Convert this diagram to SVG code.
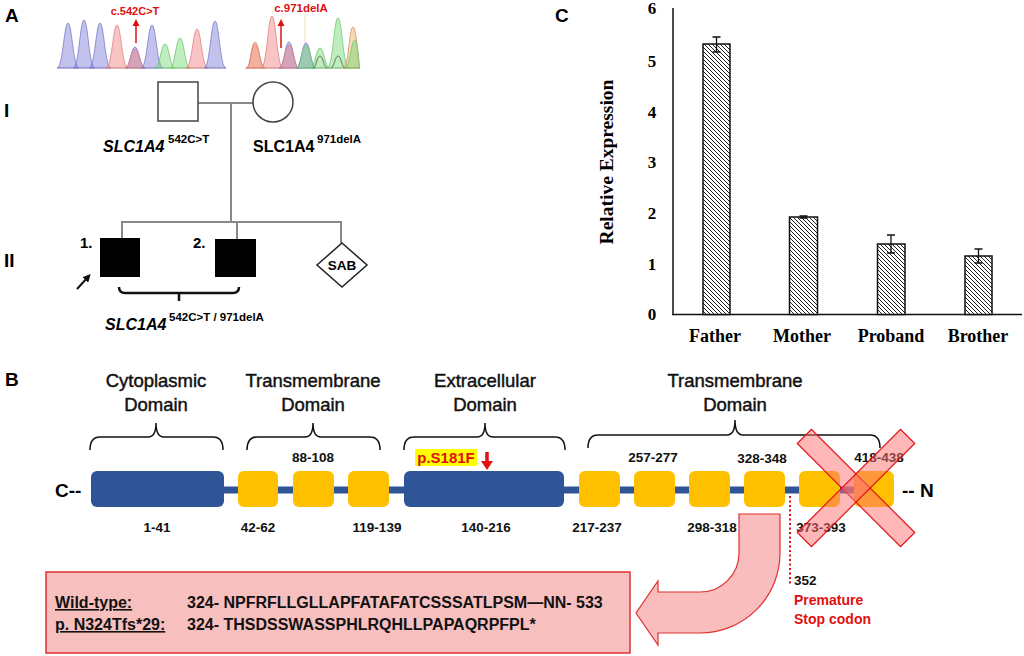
<svg xmlns="http://www.w3.org/2000/svg" width="1024" height="656" viewBox="0 0 1024 656">
<defs>
<style>
.sans{font-family:"Liberation Sans",Arial,sans-serif}
.serif{font-family:"Liberation Serif","Times New Roman",serif;font-weight:bold}
.panel{font-family:"Liberation Sans",Arial,sans-serif;font-weight:bold;font-size:19px}
.head{font-family:"Liberation Sans",Arial,sans-serif;font-size:18.5px;fill:#111;stroke:#111;stroke-width:0.45}
.num{font-family:"Liberation Sans",Arial,sans-serif;font-weight:bold;font-size:13.5px;fill:#111}
.seq{font-family:"Liberation Sans",Arial,sans-serif;font-weight:bold;font-size:16px;fill:#111}
.ped{stroke:#888;stroke-width:2;fill:none}
.brace{stroke:#111;stroke-width:1.5;fill:none}
.blue{fill:#2F5597}
.yel{fill:#FFC000}
.pb{fill:rgba(120,120,215,0.45);stroke:#7a7ad0;stroke-width:0.8}
.pr{fill:rgba(240,125,125,0.45);stroke:#e08080;stroke-width:0.8}
.pg{fill:rgba(110,215,110,0.45);stroke:#70c870;stroke-width:0.8}
.po{fill:rgba(235,175,95,0.45);stroke:#d99060;stroke-width:0.8}
.bar{fill:url(#hatch);stroke:#111;stroke-width:1.5}
.err{stroke:#111;stroke-width:1.3;fill:none}
.redt{fill:#E01010;font-family:"Liberation Sans",Arial,sans-serif;font-weight:bold}
</style>
<pattern id="hatch" width="4" height="4" patternUnits="userSpaceOnUse">
<rect width="4" height="4" fill="#fff"/>
<path d="M-1,-1 L5,5 M-1,3 L1,5 M3,-1 L5,1" stroke="#222" stroke-width="1"/>
</pattern>
<marker id="ah" viewBox="0 0 10 10" refX="5" refY="5" markerWidth="4" markerHeight="4" orient="auto">
<path d="M0,0 L10,5 L0,10 Z" fill="#111"/>
</marker>
</defs>
<rect width="1024" height="656" fill="#fff"/>

<!-- Panel A -->
<text class="panel" x="5" y="22">A</text>
<g id="chromatogram-left">
<line x1="58" y1="68" x2="226" y2="68" stroke="#bbb" stroke-width="1"/>
<path class="pb" d="M57,68 C63,68 64,23 68,23 C72,23 73,68 79,68 Z"/>
<path class="pb" d="M73,68 C79,68 80,20 84,20 C88,20 89,68 95,68 Z"/>
<path class="pb" d="M89,68 C95,68 96,23 100,23 C104,23 105,68 111,68 Z"/>
<path class="pr" d="M106,68 C112,68 113,25 117,25 C121,25 122,68 128,68 Z"/>
<path class="pb" d="M125,68 C130,68 131,47 135,47 C139,47 140,68 145,68 Z"/>
<path class="pr" d="M125,68 C130,68 131,49 135,49 C139,49 140,68 145,68 Z"/>
<path class="pb" d="M141,68 C147,68 148,25 152,25 C156,25 157,68 163,68 Z"/>
<path class="pg" d="M155,68 C160,68 161,44 165,44 C169,44 170,68 175,68 Z"/>
<path class="pg" d="M170,68 C175,68 176,38 180,38 C184,38 185,68 190,68 Z"/>
<path class="pr" d="M186,68 C192,68 193,29 197,29 C201,29 202,68 208,68 Z"/>
<path class="pb" d="M204,68 C210,68 211,21 215,21 C219,21 220,68 226,68 Z"/>
<text class="redt" x="135" y="15" font-size="11" text-anchor="middle">c.542C&gt;T</text>
<line x1="136" y1="43" x2="136" y2="25" stroke="#E01010" stroke-width="1.5"/>
<path d="M132.5,26 L136,19 L139.5,26 Z" fill="#E01010"/>
</g>
<g id="chromatogram-right">
<line x1="245" y1="68" x2="360" y2="68" stroke="#bbb" stroke-width="1"/>
<line x1="305" y1="14" x2="305" y2="44" stroke="#f3dcc0" stroke-width="1"/>
<path class="po" d="M246,68 C251,68 251,42 255,42 C259,42 260,68 265,68 Z"/>
<path class="pr" d="M246,68 C251,68 251,44 255,44 C259,44 260,68 265,68 Z"/>
<path class="pr" d="M261,68 C267,68 268,16 272,16 C276,16 277,68 283,68 Z"/>
<path class="pb" d="M279,68 C284,68 285,42 289,42 C293,42 294,68 299,68 Z"/>
<path class="pr" d="M279,68 C284,68 285,45 289,45 C293,45 294,68 299,68 Z"/>
<path class="pb" d="M296,68 C301,68 302,43 306,43 C310,43 311,68 316,68 Z"/>
<path class="pg" d="M296,68 C301,68 302,45 306,45 C310,45 311,68 316,68 Z"/>
<path class="pg" d="M310,68 C315,68 316,48 320,48 C324,48 325,68 330,68 Z"/>
<path d="M313,68 C316,68 317,56 320,56 C323,56 324,68 327,68" fill="none" stroke="#555" stroke-width="0.8"/>
<path class="pg" d="M327,68 C333,68 334,18 338,18 C342,18 343,68 349,68 Z"/>
<path d="M331,68 C334,68 335,56 338,56 C341,56 342,68 345,68" fill="none" stroke="#555" stroke-width="0.8"/>
<path class="po" d="M343,68 C349,68 349,27 353,27 C357,27 358,68 360,68 Z"/>
<path class="pg" d="M345,68 C350,68 351,40 355,40 C358,40 359,68 360,68 Z"/>
<text class="redt" x="301" y="12" font-size="11.5" text-anchor="middle">c.971delA</text>
<line x1="281" y1="48" x2="281" y2="25" stroke="#E01010" stroke-width="1.5"/>
<path d="M277.5,26 L281,19 L284.5,26 Z" fill="#E01010"/>
</g>

<text class="panel" x="4" y="117" font-size="20">I</text>
<text class="panel" x="4" y="267" font-size="20">II</text>

<g id="pedigree-lines">
<line class="ped" x1="198" y1="103" x2="253" y2="103"/>
<line class="ped" x1="231" y1="103" x2="231" y2="222"/>
<line class="ped" x1="121" y1="222" x2="342" y2="222"/>
<line class="ped" x1="122" y1="222" x2="122" y2="238"/>
<line class="ped" x1="237" y1="222" x2="237" y2="239"/>
<line class="ped" x1="341" y1="222" x2="341" y2="243"/>
</g>
<g id="father">
<rect x="158" y="82" width="40" height="39" fill="#fff" stroke="#444" stroke-width="1.5"/>
<text class="sans" x="103" y="152" font-size="16" font-weight="bold" font-style="italic">SLC1A4</text>
<text class="sans" x="168" y="143" font-size="11.5" font-weight="bold">542C&gt;T</text>
</g>
<g id="mother">
<circle cx="273" cy="102" r="20" fill="#fff" stroke="#444" stroke-width="1.5"/>
<text class="sans" x="253" y="152" font-size="16" font-weight="bold">SLC1A4</text>
<text class="sans" x="317" y="143" font-size="11.5" font-weight="bold">971delA</text>
</g>
<g id="child1">
<rect x="100" y="238" width="40" height="39" fill="#000"/>
<text class="sans" x="80" y="248" font-size="15" font-weight="bold">1.</text>
<line x1="77" y1="289" x2="88" y2="277" stroke="#111" stroke-width="2" marker-end="url(#ah)"/>
</g>
<g id="child2">
<rect x="215" y="239" width="41" height="38" fill="#000"/>
<text class="sans" x="193" y="248" font-size="15" font-weight="bold">2.</text>
</g>
<g id="sab">
<path d="M342,243 L367,265 L342,287 L317,265 Z" fill="#fff" stroke="#222" stroke-width="1.5"/>
<text class="sans" x="342" y="270" font-size="13.5" font-weight="bold" text-anchor="middle">SAB</text>
</g>
<g id="children-genotype">
<path d="M119,287 Q119,293 125,293 L233,293 Q239,293 239,287 M179,293 L179,301" fill="none" stroke="#111" stroke-width="2.5"/>
<text class="sans" x="105" y="330" font-size="16" font-weight="bold" font-style="italic">SLC1A4</text>
<text class="sans" x="169" y="321" font-size="11.5" font-weight="bold">542C&gt;T / 971delA</text>
</g>

<!-- Panel C -->
<text class="panel" x="555" y="22">C</text>
<g id="chart">
<line x1="673" y1="8" x2="673" y2="315" stroke="#111" stroke-width="1.5"/>
<line x1="672" y1="314.5" x2="1022" y2="314.5" stroke="#111" stroke-width="1.5"/>
<g class="serif" font-size="17" text-anchor="middle">
<text x="652" y="14">6</text>
<text x="652" y="67">5</text>
<text x="652" y="118">4</text>
<text x="652" y="168">3</text>
<text x="652" y="219">2</text>
<text x="652" y="270">1</text>
<text x="652" y="320">0</text>
</g>
<text class="serif" font-size="19.5" text-anchor="middle" transform="translate(613,162) rotate(-90)">Relative Expression</text>
<rect class="bar" x="703" y="44" width="27" height="270.5"/>
<rect class="bar" x="789.5" y="217" width="28" height="97.5"/>
<rect class="bar" x="877.5" y="244" width="27.5" height="70.5"/>
<rect class="bar" x="965" y="256" width="27" height="58.5"/>
<path class="err" d="M716.5,37 V52 M712.5,37 H720.5 M712.5,52 H720.5"/>
<path class="err" d="M803.5,216 V218 M799.5,216 H807.5 M799.5,218 H807.5"/>
<path class="err" d="M891,235 V253 M887,235 H895 M887,253 H895"/>
<path class="err" d="M978.5,249 V263 M974.5,249 H982.5 M974.5,263 H982.5"/>
<g class="serif" font-size="18" text-anchor="middle">
<text x="715" y="342">Father</text>
<text x="802" y="342">Mother</text>
<text x="891" y="342">Proband</text>
<text x="978" y="342">Brother</text>
</g>
</g>

<!-- Panel B -->
<text class="panel" x="5" y="386">B</text>
<g id="headings" class="head" text-anchor="middle">
<text x="156" y="387">Cytoplasmic</text><text x="156" y="411">Domain</text>
<text x="313" y="387">Transmembrane</text><text x="313" y="411">Domain</text>
<text x="485" y="387">Extracellular</text><text x="485" y="411">Domain</text>
<text x="735" y="387">Transmembrane</text><text x="735" y="411">Domain</text>
</g>
<g id="braces">
<path class="brace" d="M90,450 Q90,437 100,437 L148,437 Q156,437 156,423 Q156,437 164,437 L213,437 Q223,437 223,450"/>
<path class="brace" d="M247,450 Q247,437 257,437 L305,437 Q313,437 313,423 Q313,437 321,437 L370,437 Q380,437 380,450"/>
<path class="brace" d="M404,450 Q404,437 414,437 L477,437 Q485,437 485,423 Q485,437 493,437 L555,437 Q565,437 565,450"/>
<path class="brace" d="M588,448 Q588,435 598,435 L727,435 Q735,435 735,420 Q735,435 743,435 L870,435 Q880,435 880,448"/>
</g>
<g id="protein">
<line x1="120" y1="490" x2="880" y2="490" stroke="#2F5597" stroke-width="7"/>
<rect class="blue" x="91" y="471" width="133" height="36" rx="6"/>
<rect class="yel" x="238" y="471" width="40" height="36" rx="6"/>
<rect class="yel" x="293" y="471" width="41" height="36" rx="6"/>
<rect class="yel" x="348" y="471" width="41" height="36" rx="6"/>
<rect class="blue" x="404" y="471" width="160" height="36" rx="6"/>
<rect class="yel" x="579" y="471" width="41" height="36" rx="6"/>
<rect class="yel" x="634" y="471" width="41" height="36" rx="6"/>
<rect class="yel" x="689" y="471" width="41" height="36" rx="6"/>
<rect class="yel" x="744" y="471" width="41" height="36" rx="6"/>
<rect class="yel" x="799" y="471" width="41" height="36" rx="6"/>
<rect class="yel" x="854" y="471" width="40" height="36" rx="6"/>
<text class="sans" x="55" y="497" font-size="19" font-weight="bold">C--</text>
<text class="sans" x="902" y="497" font-size="19" font-weight="bold">-- N</text>
</g>
<g id="range-labels" class="num" text-anchor="middle">
<text x="313" y="462">88-108</text>
<text x="653" y="462">257-277</text>
<text x="762" y="463">328-348</text>
<text x="879" y="462">418-438</text>
<text x="157" y="532">1-41</text>
<text x="258" y="532">42-62</text>
<text x="377" y="532">119-139</text>
<text x="486" y="532">140-216</text>
<text x="597" y="532">217-237</text>
<text x="712" y="532">298-318</text>
<text x="821" y="532">373-393</text>
</g>
<g id="mutation">
<rect x="415" y="449" width="62" height="17" fill="#FFFF00"/>
<text class="redt" x="446" y="463" font-size="15" text-anchor="middle">p.S181F</text>
<line x1="487" y1="452" x2="487" y2="462" stroke="#E01010" stroke-width="3.5"/>
<path d="M481,461 L487,470 L493,461 Z" fill="#E01010"/>
</g>
<g id="deletion-x" fill="#FF7070" fill-opacity="0.5" stroke="#E01010" stroke-width="1.2">
<rect x="783" y="478" width="146" height="20" transform="rotate(45 856 488)"/>
<rect x="783" y="478" width="146" height="20" transform="rotate(-45 856 488)"/>
</g>
<g id="stop-codon">
<line x1="790" y1="496" x2="790" y2="586" stroke="#E01010" stroke-width="2" stroke-dasharray="2,2.5"/>
<text class="num" x="794" y="585">352</text>
<text class="redt" x="794" y="605" font-size="14">Premature</text>
<text class="redt" x="794" y="624" font-size="14">Stop codon</text>
</g>
<g id="curved-arrow">
<path d="M739,514 L780,514 L780,553 A80,80 0 0 1 700,633 L658,633 L658,645 L636,613 L658,581 L658,592 L700,592 A39,39 0 0 0 739,553 Z" fill="#F9BDBD" stroke="#E03030" stroke-width="1.2"/>
</g>
<g id="sequence-box">
<rect x="46" y="572" width="584" height="81" fill="#F8BFBF" stroke="#E03030" stroke-width="1.5"/>
<text class="seq" x="55" y="608" text-decoration="underline">Wild-type:</text>
<text class="seq" x="187" y="608">324- NPFRFLLGLLAPFATAFATCSSSATLPSM—NN- 533</text>
<text class="seq" x="55" y="630" text-decoration="underline">p. N324Tfs*29:</text>
<text class="seq" x="187" y="630">324- THSDSSWASSPHLRQHLLPAPAQRPFPL*</text>
</g>
</svg>
